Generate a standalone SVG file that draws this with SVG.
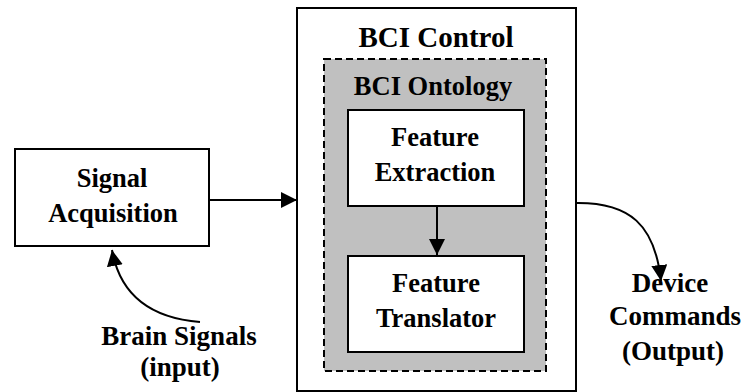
<svg xmlns="http://www.w3.org/2000/svg" width="748" height="392" viewBox="0 0 748 392">
<defs>
<marker id="ah" markerUnits="userSpaceOnUse" markerWidth="16" markerHeight="16" refX="16" refY="8" orient="auto">
<path d="M0,0 L16,8 L0,16 z" fill="#000"/>
</marker>
<style>
.box{fill:#fff;stroke:#000;stroke-width:2}
.dash{fill:#c0c0c0;stroke:#000;stroke-width:2;stroke-dasharray:7,4}
text{font-family:"Liberation Serif","DejaVu Serif",serif;font-weight:bold;font-size:26.5px;text-anchor:middle;fill:#000}
text.o{font-size:27px}
text.h{font-size:29px}
.c{fill:none;stroke:#000;stroke-width:2}
</style>
</defs>
<rect width="748" height="392" fill="#fff"/>
<g id="bci-control">
<rect class="box" x="297" y="8" width="279" height="383"/>
<text class="h" x="436" y="47">BCI Control</text>
</g>
<g id="bci-ontology">
<rect class="dash" x="324" y="59" width="222" height="312"/>
<text x="433" y="95">BCI Ontology</text>
</g>
<g id="feature-extraction">
<rect class="box" x="348" y="110" width="176" height="96"/>
<text x="435" y="146">Feature</text>
<text x="435" y="181">Extraction</text>
</g>
<g id="feature-translator">
<rect class="box" x="348" y="256" width="176" height="96"/>
<text x="436" y="292">Feature</text>
<text x="436" y="327">Translator</text>
</g>
<g id="signal-acquisition">
<rect class="box" x="15" y="149" width="194" height="97"/>
<text x="112" y="187">Signal</text>
<text x="113" y="222">Acquisition</text>
</g>
<g id="brain-signals">
<text class="o" x="179" y="345">Brain Signals</text>
<text class="o" x="180" y="376">(input)</text>
</g>
<g id="device-commands">
<text class="o" x="670" y="292">Device</text>
<text class="o" x="675" y="325">Commands</text>
<text class="o" x="673" y="360">(Output)</text>
</g>
<g id="connectors">
<line class="c" x1="209" y1="200" x2="297" y2="200" marker-end="url(#ah)"/>
<line class="c" x1="437" y1="206" x2="437" y2="255" marker-end="url(#ah)"/>
<path class="c" d="M200,322 C150,318 120,295 112,250" marker-end="url(#ah)"/>
<path class="c" d="M575,203 C630,202 655,225 661,281" marker-end="url(#ah)"/>
</g>
</svg>
